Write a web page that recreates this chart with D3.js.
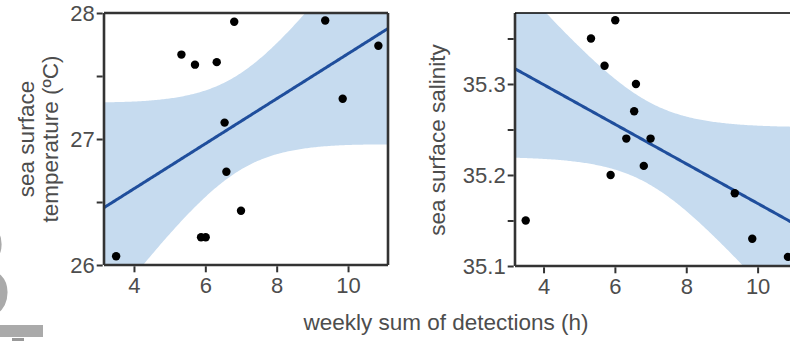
<!DOCTYPE html>
<html>
<head>
<meta charset="utf-8">
<script src="https://cdn.jsdelivr.net/npm/d3@7/dist/d3.min.js"></script>
<style>
  html, body { margin: 0; padding: 0; background: #fff; }
  svg { display: block; font-family: "Liberation Sans", Arial, sans-serif; }
</style>
</head>
<body>
<svg id="chart" width="790" height="341"></svg>
<script>
// Weekly sum of detections (h) for each week, with the matching sea surface conditions
const hours       = [3.50, 5.33, 5.71, 5.88, 6.01, 6.32, 6.54, 6.59, 6.81, 7.00, 9.36, 9.85, 10.85];
const temperature = [26.07, 27.67, 27.59, 26.22, 26.22, 27.61, 27.13, 26.74, 27.93, 26.43, 27.94, 27.32, 27.74];
const salinity    = [35.15, 35.35, 35.32, 35.20, 35.37, 35.24, 35.27, 35.30, 35.21, 35.24, 35.18, 35.13, 35.11];

// Axis ticks
const xTicks        = [4, 6, 8, 10];
const tempTicks     = [26, 27, 28];
const tempMinor     = [26.5, 27.5];
const salTicks      = [35.1, 35.2, 35.3];
const salMinor      = [35.15, 35.25, 35.35];

// Two-sided 95% t quantile for n - 2 = 11 degrees of freedom
const T95 = 2.200985;

const svg = d3.select("#chart");
const ink = "#333";
const textGrey = "#4d4d4d";

// Ordinary least squares fit with a 95% confidence band for the mean
function linearFit(xs, ys) {
  const n = xs.length;
  const mx = d3.mean(xs), my = d3.mean(ys);
  let sxx = 0, sxy = 0;
  xs.forEach((x, i) => { sxx += (x - mx) ** 2; sxy += (x - mx) * (ys[i] - my); });
  const b = sxy / sxx, a = my - b * mx;
  let sse = 0;
  xs.forEach((x, i) => { sse += (ys[i] - (a + b * x)) ** 2; });
  const s = Math.sqrt(sse / (n - 2));
  return x => {
    const fit = a + b * x;
    const half = T95 * s * Math.sqrt(1 / n + (x - mx) ** 2 / sxx);
    return { x, fit, lo: fit - half, hi: fit + half };
  };
}

function panel(opts) {
  const { id, x, y, ys, majors, minors, fmt, closedTop } = opts;
  const [x0, x1] = x.range();
  const [y0, y1] = y.range(); // y0 bottom, y1 top
  const g = svg.append("g");

  const clipId = "clip-" + id;
  svg.append("clipPath").attr("id", clipId)
    .append("rect").attr("x", x0).attr("y", y1).attr("width", x1 - x0).attr("height", y0 - y1);

  const model = linearFit(hours, ys);
  const grid = d3.range(0, 201).map(i => model(x.domain()[0] + (x.domain()[1] - x.domain()[0]) * i / 200));

  const plot = g.append("g").attr("clip-path", `url(#${clipId})`);
  plot.append("path")
    .attr("d", d3.area().x(d => x(d.x)).y0(d => y(d.lo)).y1(d => y(d.hi))(grid))
    .attr("fill", "#c6dbef");
  plot.append("path")
    .attr("d", d3.line().x(d => x(d.x)).y(d => y(d.fit))(grid))
    .attr("fill", "none").attr("stroke", "#1f4e9c").attr("stroke-width", 3);
  plot.selectAll("circle").data(hours).join("circle")
    .attr("cx", d => x(d)).attr("cy", (d, i) => y(ys[i])).attr("r", 4.2).attr("fill", "#000");

  // Frame
  g.append("line").attr("x1", x0).attr("x2", x1).attr("y1", y0).attr("y2", y0)
    .attr("stroke", ink).attr("stroke-width", 2.6);
  g.append("line").attr("x1", x0).attr("x2", x0).attr("y1", y1).attr("y2", y0)
    .attr("stroke", ink).attr("stroke-width", 2.6);
  g.append("line").attr("x1", x1).attr("x2", x1).attr("y1", y1).attr("y2", y0)
    .attr("stroke", ink).attr("stroke-width", 2.6);
  g.append("line").attr("x1", x0).attr("x2", x1).attr("y1", y1).attr("y2", y1)
    .attr("stroke", closedTop ? ink : "#000").attr("stroke-width", closedTop ? 2.6 : 1.6);

  // Y axis: labelled majors plus unlabelled half steps
  const yAxis = g.append("g").attr("transform", `translate(${x0 - 1.3},0)`)
    .call(d3.axisLeft(y).tickValues(majors).tickSize(6).tickPadding(2).tickFormat(fmt));
  const yMinor = g.append("g").attr("transform", `translate(${x0 - 1.3},0)`)
    .call(d3.axisLeft(y).tickValues(minors).tickSize(6).tickFormat(""));
  const xAxis = g.append("g").attr("transform", `translate(0,${y0 + 1.3})`)
    .call(d3.axisBottom(x).tickValues(xTicks).tickSize(6).tickPadding(5).tickFormat(d3.format("d")));

  [yAxis, yMinor, xAxis].forEach(a => {
    a.select(".domain").remove();
    a.selectAll(".tick line").attr("stroke", ink).attr("stroke-width", 2);
    a.selectAll(".tick text").attr("fill", textGrey).attr("font-size", 22)
      .attr("font-family", "Liberation Sans, Arial, sans-serif");
  });
  return g;
}

const xTemp = d3.scaleLinear().domain([3.16, 11.12]).range([104, 388]);
const yTemp = d3.scaleLinear().domain([26, 28]).range([265, 13]);
panel({ id: "sst", x: xTemp, y: yTemp, ys: temperature,
        majors: tempTicks, minors: tempMinor, fmt: d3.format("d"), closedTop: true });

const xSal = d3.scaleLinear().domain([3.20, 11.16]).range([515, 799]);
const ySal = d3.scaleLinear().domain([35.1, 35.378]).range([266, 13]);
panel({ id: "sss", x: xSal, y: ySal, ys: salinity,
        majors: salTicks, minors: salMinor, fmt: d3.format(".1f"), closedTop: false });

// Axis titles
const title = svg.append("g").attr("fill", textGrey).attr("font-size", 22.5);
title.append("text").attr("text-anchor", "middle")
  .attr("transform", "translate(34,139) rotate(-90)").text("sea surface");
title.append("text").attr("text-anchor", "middle")
  .attr("transform", "translate(58,139) rotate(-90)").text("temperature (ºC)");
title.append("text").attr("text-anchor", "middle")
  .attr("transform", "translate(445,140) rotate(-90)").text("sea surface salinity");
title.append("text").attr("text-anchor", "middle")
  .attr("x", 446).attr("y", 330).text("weekly sum of detections (h)");

// Neighbouring panel letter, cut off at the left edge
svg.append("text").attr("x", -94).attr("y", 322)
  .attr("font-size", 150).attr("font-weight", "bold").attr("fill", "#aaa").text("B");
svg.append("rect").attr("x", 0).attr("y", 325).attr("width", 43).attr("height", 12).attr("fill", "#aaa");
svg.append("rect").attr("x", 12).attr("y", 338).attr("width", 12).attr("height", 3).attr("fill", "#999");
</script>
</body>
</html>
